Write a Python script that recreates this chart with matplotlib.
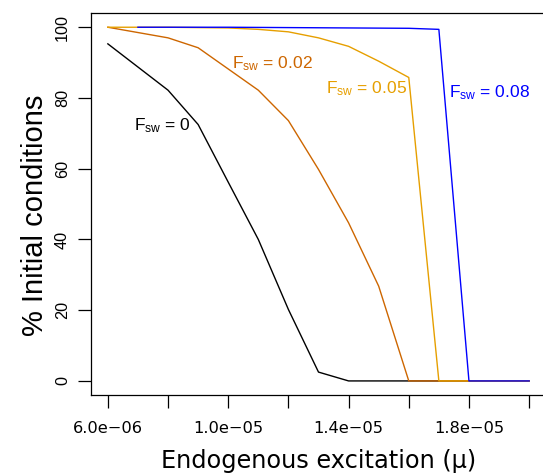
import numpy as np
import matplotlib
matplotlib.use("Agg")
import matplotlib.pyplot as plt

plt.rcParams['mathtext.fontset'] = 'custom'
plt.rcParams['mathtext.rm'] = 'Liberation Sans'
plt.rcParams['mathtext.it'] = 'Liberation Sans'

# values
x_f0 = [6e-6, 8e-6, 9e-6, 1.0e-5, 1.1e-5, 1.2e-5, 1.3e-5, 1.4e-5, 1.6e-5, 1.8e-5, 2.0e-5]
y_f0 = [95.3, 82.2, 72.5, 56.2, 40.0, 20.2, 2.5, 0, 0, 0, 0]

x_f002 = [6e-6, 8e-6, 9e-6, 1.0e-5, 1.1e-5, 1.2e-5, 1.3e-5, 1.4e-5, 1.5e-5, 1.6e-5, 1.8e-5, 2.0e-5]
y_f002 = [100, 97.0, 94.2, 88.2, 82.2, 73.6, 59.8, 44.7, 26.8, 0, 0, 0]

x_f005 = [6e-6, 8e-6, 1.0e-5, 1.1e-5, 1.2e-5, 1.3e-5, 1.4e-5, 1.5e-5, 1.6e-5, 1.7e-5, 1.8e-5, 2.0e-5]
y_f005 = [100, 100, 99.8, 99.4, 98.7, 97.0, 94.6, 90.4, 85.8, 0, 0, 0]

x_f008 = [7e-6, 1.0e-5, 1.4e-5, 1.6e-5, 1.7e-5, 1.8e-5, 1.9e-5, 2.0e-5]
y_f008 = [100, 100, 99.8, 99.7, 99.4, 0, 0, 0]

xticks = [6e-6, 8e-6, 1.0e-5, 1.2e-5, 1.4e-5, 1.6e-5, 1.8e-5, 2.0e-5]
xtick_labels = ['6.0e\u221206', '', '1.0e\u221205', '', '1.4e\u221205', '', '1.8e\u221205', '']
yticks = [0, 20, 40, 60, 80, 100]

series = [
    (x_f0, y_f0, 'black', '0', 6.86e-6, 70.9),
    (x_f002, y_f002, '#CD6600', '0.02', 1.0126e-5, 88.3),
    (x_f005, y_f005, '#E69F00', '0.05', 1.3244e-5, 81.2),
    (x_f008, y_f008, '#0000FF', '0.08', 1.7333e-5, 80.3),
]

fig = plt.figure(figsize=(5.43, 4.76), dpi=100)
ax = fig.add_axes([0.1676, 0.170, 0.8379, 0.8025])

for xs, ys, col, lab, tx, ty in series:
    ax.plot(xs, ys, color=col, lw=1.0)
    ax.text(tx, ty, r'$\mathrm{F_{sw}}$ = ' + lab, color=col, fontsize=12.5,
            family='Liberation Sans', ha='left', va='baseline')

ax.set_xlim(6e-6 - 0.04 * 1.4e-5, 2e-5 + 0.04 * 1.4e-5)
ax.set_ylim(-4, 104)

ax.tick_params(axis='both', length=9.4, width=0.9, direction='out')
ax.tick_params(axis='x', pad=9.5)
ax.tick_params(axis='y', pad=7.9)

ax.set_xticks(xticks)
ax.set_xticklabels(xtick_labels, family='DejaVu Sans', fontsize=11.7)
ax.set_yticks(yticks)
ax.set_yticklabels([str(v) for v in yticks], family='Liberation Sans', fontsize=11.7)
for lab in ax.get_yticklabels():
    lab.set_rotation(90)
    lab.set_rotation_mode('anchor')
    lab.set_ha('center')
    lab.set_va('baseline')

for s in ax.spines.values():
    s.set_linewidth(0.9)

ax.set_xlabel('Endogenous excitation (\u03bc)', family='DejaVu Sans', fontsize=17.3)
ax.set_ylabel('% Initial conditions', family='Liberation Sans', fontsize=21)
ax.yaxis.label.set_va('baseline')
ax.xaxis.set_label_coords(0.5, -0.141)
ax.yaxis.set_label_coords(-0.105, 0.47)

fig.savefig('out.png', dpi=100)
